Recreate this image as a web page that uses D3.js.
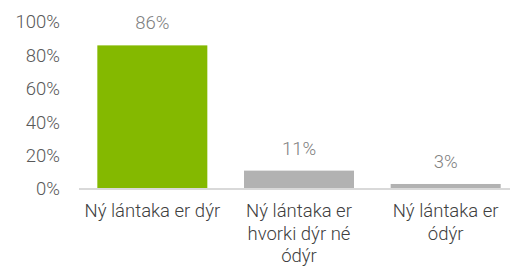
<!DOCTYPE html>
<html>
<head>
<meta charset="utf-8">
<script src="https://cdn.jsdelivr.net/npm/d3@7"></script>
<style>
  body { margin: 0; background: #fff; }
  text { font-family: "Segoe UI Light", Roboto, "Open Sans", sans-serif; font-weight: 300; }
</style>
</head>
<body>
<div id="chart"></div>
<script>
// chart data
const categories = ["Ný lántaka er dýr", "Ný lántaka er hvorki dýr né ódýr", "Ný lántaka er ódýr"];
const catLines = [["Ný lántaka er dýr"], ["Ný lántaka er", "hvorki dýr né", "ódýr"], ["Ný lántaka er", "ódýr"]];
const values = [86, 11, 3];
const barColors = ["#84b900", "#b2b2b2", "#b2b2b2"];
const yTicks = [0, 20, 40, 60, 80, 100];

const width = 510, height = 268;
const x0 = 79, x1 = 519, yBase = 189, yTop = 22;
const fs = "18.5px";

const svg = d3.select("#chart").append("svg")
  .attr("width", width)
  .attr("height", height);

const x = d3.scaleBand()
  .domain(categories)
  .range([x0, x1])
  .paddingInner(0.25)
  .paddingOuter(0.125);

const y = d3.scaleLinear()
  .domain([0, 100])
  .range([yBase, yTop]);

// y tick labels
svg.selectAll(".ytick")
  .data(yTicks)
  .join("text")
  .attr("x", 60)
  .attr("y", d => y(d))
  .attr("dy", "0.35em")
  .attr("text-anchor", "end")
  .attr("fill", "#595959")
  .style("font-size", fs)
  .text(d => d + "%");

// bars
svg.selectAll(".bar")
  .data(values)
  .join("rect")
  .attr("x", (d, i) => x(categories[i]))
  .attr("y", d => y(d))
  .attr("width", x.bandwidth())
  .attr("height", d => yBase - y(d))
  .attr("fill", (d, i) => barColors[i]);

// baseline
svg.append("line")
  .attr("x1", x0).attr("x2", width)
  .attr("y1", yBase).attr("y2", yBase)
  .attr("stroke", "#d9d9d9")
  .attr("stroke-width", 2);

// value labels
svg.selectAll(".val")
  .data(values)
  .join("text")
  .attr("x", (d, i) => x(categories[i]) + x.bandwidth() / 2)
  .attr("y", d => y(d) - 16)
  .attr("text-anchor", "middle")
  .attr("fill", "#808080")
  .style("font-size", fs)
  .text(d => d + "%");

// category labels
categories.forEach((c, i) => {
  const t = svg.append("text")
    .attr("x", x(c) + x.bandwidth() / 2)
    .attr("y", 217)
    .attr("text-anchor", "middle")
    .attr("fill", "#404040")
    .style("font-size", fs);
  catLines[i].forEach((line, j) => {
    t.append("tspan")
      .attr("x", x(c) + x.bandwidth() / 2)
      .attr("dy", j === 0 ? 0 : 22.5)
      .text(line);
  });
});
</script>
</body>
</html>
